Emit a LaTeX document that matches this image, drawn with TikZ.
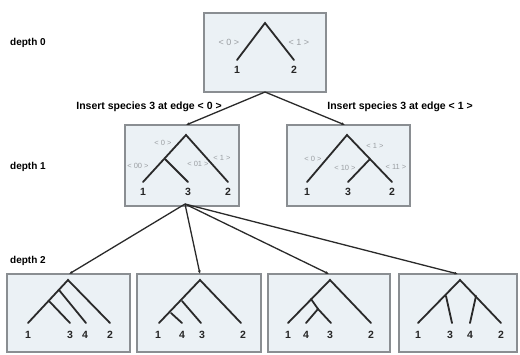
\documentclass[tikz,border=0pt]{standalone}
\usepackage{fontspec}
\setmainfont{Liberation Sans}
\usetikzlibrary{arrows.meta}
\definecolor{boxfill}{HTML}{EBF1F5}
\definecolor{boxline}{HTML}{8A8E92}
\definecolor{treeline}{HTML}{2A2A2A}
\definecolor{elab}{HTML}{9A9EA2}
\tikzset{
  treebox/.style={draw=boxline, fill=boxfill, line width=1.5pt, inner sep=0pt},
  br/.style={draw=treeline, line width=1.8pt, line cap=round},
  leaf/.style={font=\bfseries\fontsize{10.5}{10.5}\selectfont, inner sep=0pt, text=black!85},
  elbl/.style={font=\fontsize{7.5}{7.5}\selectfont, text=elab, inner sep=0pt},
  elbltop/.style={font=\fontsize{9}{9}\selectfont, text=elab, inner sep=0pt},
  deplbl/.style={font=\bfseries\fontsize{10}{10}\selectfont, anchor=west, inner sep=0pt},
  inslbl/.style={font=\bfseries\fontsize{10.5}{10.5}\selectfont, inner sep=0pt},
  conn/.style={draw=treeline, line width=1.3pt, -{Latex[length=3.5pt,width=3pt]}},
}
\begin{document}
\begin{tikzpicture}[x=1pt,y=-1pt]
\useasboundingbox (0,0) rectangle (520,354);
% boxes
\node[treebox, minimum width=122pt, minimum height=79pt] (b0) at (265,52.5) {};
\node[treebox, minimum width=114pt, minimum height=81pt] (b1a) at (182,165.5) {};
\node[treebox, minimum width=123pt, minimum height=81pt] (b1b) at (348.5,165.5) {};
\node[treebox, minimum width=123pt, minimum height=78pt] (b2a) at (68.5,313) {};
\node[treebox, minimum width=124pt, minimum height=78pt] (b2b) at (199,313) {};
\node[treebox, minimum width=122pt, minimum height=78pt] (b2c) at (329,313) {};
\node[treebox, minimum width=118pt, minimum height=78pt] (b2d) at (458,313) {};

% depth labels
\node[deplbl] (d0) at (10,43) {depth 0};
\node[deplbl] (d1) at (10,167) {depth 1};
\node[deplbl] (d2) at (10,261) {depth 2};

% connector anchor points
\coordinate (o0) at (265,92);
\coordinate (i1a) at (186,125);
\coordinate (i1b) at (345,125);
\coordinate (o1a) at (185,204);
\coordinate (i2a) at (69,274);
\coordinate (i2b) at (200,274);
\coordinate (i2c) at (329,274);
\coordinate (i2d) at (458,274);

\draw[conn] (o0) -- (i1a);
\draw[conn] (o0) -- (i1b);
\draw[conn] (o1a) -- (i2a);
\draw[conn] (o1a) -- (i2b);
\draw[conn] (o1a) -- (i2c);
\draw[conn] (o1a) -- (i2d);

\node[inslbl] (ins0) at (149,107) {Insert species 3 at edge < 0 >};
\node[inslbl] (ins1) at (400,107) {Insert species 3 at edge < 1 >};

% depth 0 tree
\draw[br] (237,60) -- (265,23) -- (294,60);
\node[leaf] (t0l1) at (237,70) {1};
\node[leaf] (t0l2) at (294,70) {2};
\node[elbltop] (t0e0) at (229,42) {< 0 >};
\node[elbltop] (t0e1) at (299,42) {< 1 >};

% depth 1 left: ((1,3),2)
\draw[br] (143,182) -- (186,135) -- (228,182);
\draw[br] (165,159) -- (188,182);
\node[leaf] (t1al1) at (143,192) {1};
\node[leaf] (t1al3) at (188,192) {3};
\node[leaf] (t1al2) at (228,192) {2};
\node[elbl] (t1ae0) at (163,143) {< 0 >};
\node[elbl] (t1ae00) at (138,166) {< 00 >};
\node[elbl] (t1ae01) at (198,164) {< 01 >};
\node[elbl] (t1ae1) at (222,158) {< 1 >};

% depth 1 right: (1,(3,2))
\draw[br] (307,182) -- (347,135) -- (392,182);
\draw[br] (370,159) -- (348,182);
\node[leaf] (t1bl1) at (307,192) {1};
\node[leaf] (t1bl3) at (348,192) {3};
\node[leaf] (t1bl2) at (392,192) {2};
\node[elbl] (t1be0) at (313,159) {< 0 >};
\node[elbl] (t1be1) at (375,146) {< 1 >};
\node[elbl] (t1be10) at (345,168) {< 10 >};
\node[elbl] (t1be11) at (396,167) {< 11 >};

% depth 2 tree a: (((1,3),4),2)
\draw[br] (28,323) -- (68,280) -- (110,323);
\draw[br] (59,290) -- (86,323);
\draw[br] (49,301) -- (70,323);
\node[leaf] (t2a1) at (28,335) {1};
\node[leaf] (t2a3) at (70,335) {3};
\node[leaf] (t2a4) at (85,335) {4};
\node[leaf] (t2a2) at (110,335) {2};

% depth 2 tree b: (((1,4),3),2)
\draw[br] (159,323) -- (200,280) -- (241,323);
\draw[br] (182,301) -- (201,323);
\draw[br] (171,313) -- (182,323);
\node[leaf] (t2b1) at (158,335) {1};
\node[leaf] (t2b4) at (182,335) {4};
\node[leaf] (t2b3) at (202,335) {3};
\node[leaf] (t2b2) at (243,335) {2};

% depth 2 tree c: ((1,(4,3)),2)
\draw[br] (288,323) -- (330,280) -- (371,323);
\draw[br] (311,299) -- (318,309);
\draw[br] (306,323) -- (318,309) -- (331,323);
\node[leaf] (t2c1) at (288,335) {1};
\node[leaf] (t2c4) at (306,335) {4};
\node[leaf] (t2c3) at (330,335) {3};
\node[leaf] (t2c2) at (371,335) {2};

% depth 2 tree d: ((1,3),(4,2))
\draw[br] (418,323) -- (460,280) -- (501,323);
\draw[br] (446,296) -- (452,323);
\draw[br] (476,296) -- (470,323);
\node[leaf] (t2d1) at (418,335) {1};
\node[leaf] (t2d3) at (450,335) {3};
\node[leaf] (t2d4) at (470,335) {4};
\node[leaf] (t2d2) at (501,335) {2};
\end{tikzpicture}
\end{document}
